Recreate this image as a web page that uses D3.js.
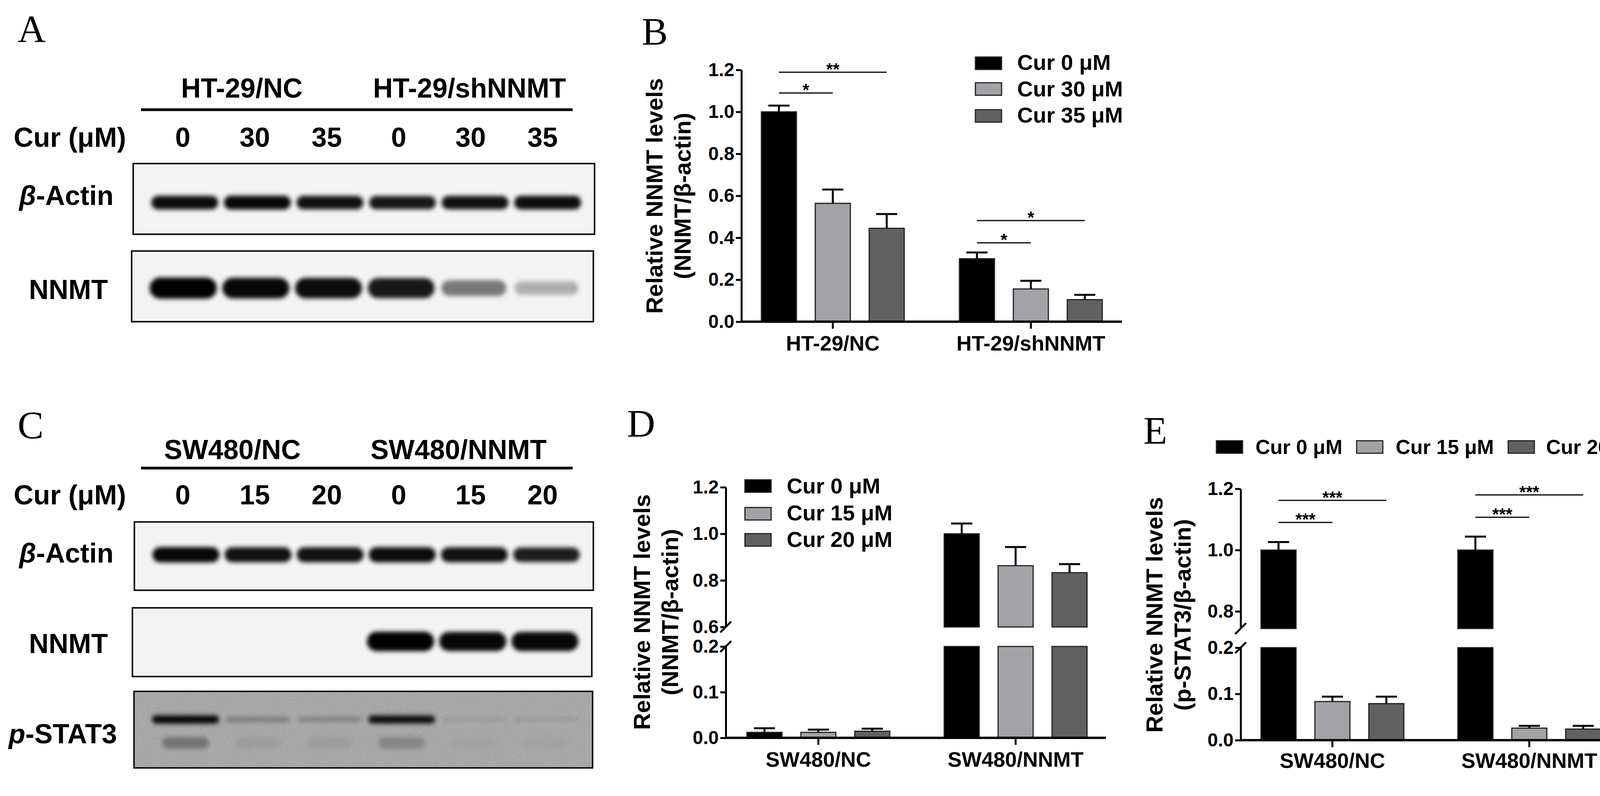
<!DOCTYPE html>
<html>
<head>
<meta charset="utf-8">
<script src="https://cdn.jsdelivr.net/npm/d3@7"></script>
<style>
body{margin:0;background:#fff}
text{font-family:"Liberation Sans",Arial,sans-serif;font-weight:bold;fill:#000}
.lbl{font-family:"Liberation Serif","Times New Roman",serif;font-weight:normal}
</style>
</head>
<body>
<script>
var W=4252, H=2039;

// ---- data ----
var curB = ["Cur 0 \u03bcM","Cur 30 \u03bcM","Cur 35 \u03bcM"];
var curDE = ["Cur 0 \u03bcM","Cur 15 \u03bcM","Cur 20 \u03bcM"];
var groupsB = ["HT-29/NC","HT-29/shNNMT"];
var groupsDE = ["SW480/NC","SW480/NNMT"];
var valuesB = [[1.0,0.564,0.445],[0.30,0.156,0.105]];
var semB    = [[0.03,0.066,0.068],[0.03,0.039,0.023]];
var valuesD = [[0.012,0.012,0.0145],[1.0,0.863,0.833]];
var semD    = [[0.009,0.006,0.0055],[0.044,0.08,0.037]];
var valuesE = [[1.0,0.0835,0.079],[1.0,0.026,0.024]];
var semE    = [[0.026,0.0105,0.015],[0.044,0.005,0.007]];
var sigB = [{g:0,to:2,v:1.189,t:"**"},{g:0,to:1,v:1.09,t:"*"},{g:1,to:2,v:0.482,t:"*"},{g:1,to:1,v:0.376,t:"*"}];
var sigE = [{g:0,to:2,v:1.162,t:"***"},{g:0,to:1,v:1.09,t:"***"},{g:1,to:2,v:1.18,t:"***"},{g:1,to:1,v:1.107,t:"***"}];
var colors = ["#000000","#a3a3a7","#616161"];

var lanesA = ["0","30","35","0","30","35"];
var lanesC = ["0","15","20","0","15","20"];
var actinA = [0.95,0.97,0.93,0.9,0.93,0.95];
var nnmtA  = [1.0,0.97,0.95,0.9,0.5,0.28];
var actinC = [0.97,0.93,0.93,0.95,0.93,0.88];
var nnmtC  = [0,0,0,1.0,0.97,0.97];
var pstatC = [0.95,0.25,0.22,0.9,0.08,0.08];
var pstatSub = [0.3,0.05,0.05,0.2,0.03,0.03];

var svg = d3.select("body").append("svg").attr("width",W).attr("height",H);
var defs = svg.append("defs");
defs.append("filter").attr("id","blur").attr("x","-30%").attr("y","-80%").attr("width","160%").attr("height","260%")
	.append("feGaussianBlur").attr("stdDeviation",6);
var nf = defs.append("filter").attr("id","noise").attr("x",0).attr("y",0).attr("width",1).attr("height",1);
nf.append("feTurbulence").attr("type","fractalNoise").attr("baseFrequency",0.6).attr("numOctaves",2).attr("result","n");
nf.append("feColorMatrix").attr("type","matrix").attr("values","0 0 0 0 0  0 0 0 0 0  0 0 0 0 0  0 0 0 0.35 0");

function letter(t,x,y){ svg.append("text").attr("class","lbl").attr("x",x).attr("y",y).attr("font-size",100).text(t); }
letter("A",45,108); letter("B",1643,114); letter("C",45,1122); letter("D",1605,1118); letter("E",2927,1136);

// ---- blots ----
function blotHeader(o){
	var g = svg.append("g");
	o.groups.forEach(function(t,i){
		g.append("text").attr("x",o.gx[i]).attr("y",o.gy).attr("text-anchor","middle").attr("font-size",70).text(t);
	});
	g.append("line").attr("x1",361).attr("x2",1466).attr("y1",o.ly).attr("y2",o.ly).attr("stroke","#000").attr("stroke-width",7);
	g.append("text").attr("x",35).attr("y",o.cy).attr("font-size",70).text("Cur (\u03bcM)");
	var x = d3.scalePoint().domain(d3.range(6)).range([468,1389]);
	o.lanes.forEach(function(t,i){
		g.append("text").attr("x",x(i)).attr("y",o.cy).attr("text-anchor","middle").attr("font-size",70).text(t);
	});
}
function blot(o){
	var g = svg.append("g");
	var x = d3.scalePoint().domain(d3.range(6)).range([o.x+132,o.x+o.w-120]);
	g.append("rect").attr("x",o.x).attr("y",o.y).attr("width",o.w).attr("height",o.h)
		.attr("fill",o.bg||"#f3f3f3");
	if(o.noise) g.append("rect").attr("x",o.x).attr("y",o.y).attr("width",o.w).attr("height",o.h).attr("filter","url(#noise)");
	g.selectAll(".band").data(o.vals).enter().append("rect")
		.attr("x",function(d,i){return x(i)-80-d*6;})
		.attr("width",function(d){return 160+d*12;})
		.attr("y",function(d){return o.by-(o.bh*(0.5+0.5*d))/2;})
		.attr("height",function(d){return o.bh*(0.5+0.5*d);})
		.attr("rx",function(d){return o.bh*(0.5+0.5*d)/2;})
		.attr("fill","#000").attr("opacity",function(d){return d;})
		.attr("filter","url(#blur)");
	if(o.sub){
		g.selectAll(".sub").data(o.sub).enter().append("rect")
			.attr("x",function(d,i){return x(i)-60;}).attr("width",120)
			.attr("y",o.by+45).attr("height",30).attr("rx",15)
			.attr("fill","#000").attr("opacity",function(d){return d;}).attr("filter","url(#blur)");
	}
	g.append("rect").attr("x",o.x).attr("y",o.y).attr("width",o.w).attr("height",o.h)
		.attr("fill","none").attr("stroke","#111").attr("stroke-width",4);
	var t = g.append("text").attr("x",o.lx).attr("y",o.ly).attr("font-size",70);
	if(o.it){ t.append("tspan").attr("font-style","italic").text(o.it); t.append("tspan").text(o.label); }
	else t.text(o.label);
}
blotHeader({groups:["HT-29/NC","HT-29/shNNMT"],gx:[619,1202],gy:250,ly:281,cy:376,lanes:lanesA});
blot({x:341,y:419,w:1181,h:181,vals:actinA,by:519,bh:36,lx:49,ly:525,it:"\u03b2",label:"-Actin"});
blot({x:337,y:643,w:1182,h:181,vals:nnmtA,by:738,bh:54,lx:74,ly:766,label:"NNMT"});
blotHeader({groups:["SW480/NC","SW480/NNMT"],gx:[595,1174],gy:1176,ly:1199,cy:1292,lanes:lanesC});
blot({x:344,y:1337,w:1175,h:175,vals:actinC,by:1421,bh:40,lx:49,ly:1441,it:"\u03b2",label:"-Actin"});
blot({x:339,y:1557,w:1176,h:176,vals:nnmtC,by:1643,bh:50,lx:74,ly:1673,label:"NNMT"});
blot({x:343,y:1771,w:1174,h:196,vals:pstatC,by:1843,bh:22,lx:22,ly:1904,it:"p",label:"-STAT3",
	bg:"#cbcbcb",noise:true,sub:pstatSub});

// ---- bar panels ----
function barPanel(o){
	var g = svg.append("g");
	var xg = d3.scalePoint().domain(o.groups).range(o.centers);
	var xs = d3.scaleBand().domain([0,1,2]).range([-207,207]).paddingInner(0.35).paddingOuter(0.175);
	var segs = o.segs.map(function(s){ return {y:d3.scaleLinear().domain(s.domain).range(s.range), ticks:s.ticks}; });
	function yv(v){
		for(var i=0;i<segs.length;i++){ var d=segs[i].y.domain(); if(v>=d[0]&&v<=d[1]) return segs[i].y(v); }
		return segs[segs.length-1].y(v);
	}
	var y0 = segs[0].y(0);
	// bars
	o.values.forEach(function(row,gi){
		row.forEach(function(v,si){
			var bx = xg(o.groups[gi])+xs(si);
			segs.forEach(function(s){
				var d=s.y.domain();
				if(v<=d[0]) return;
				var top = Math.min(v,d[1]);
				g.append("rect").attr("x",bx).attr("width",xs.bandwidth())
					.attr("y",s.y(top)).attr("height",s.y(d[0])-s.y(top))
					.attr("fill",colors[si]).attr("stroke","#222").attr("stroke-width",3);
			});
			var cx = bx+xs.bandwidth()/2, e = v+o.sem[gi][si];
			g.append("line").attr("x1",cx).attr("x2",cx).attr("y1",yv(v)).attr("y2",yv(e)).attr("stroke","#000").attr("stroke-width",5);
			g.append("line").attr("x1",cx-27).attr("x2",cx+27).attr("y1",yv(e)).attr("y2",yv(e)).attr("stroke","#000").attr("stroke-width",5);
		});
	});
	// y axis segments
	segs.forEach(function(s,i){
		var ax = g.append("g").attr("transform","translate("+o.ax+",0)")
			.call(d3.axisLeft(s.y).tickValues(s.ticks).tickSize(14).tickSizeOuter(0).tickFormat(d3.format(".1f")));
		ax.select(".domain").attr("stroke-width",5);
		ax.selectAll(".tick line").attr("stroke-width",5);
		ax.selectAll("text").attr("font-size",48).attr("font-family","Liberation Sans").attr("font-weight","bold").attr("x",-18);
		if(i<segs.length-1){
			var yb = s.y(s.y.domain()[1]);
			g.append("line").attr("x1",o.ax-14).attr("x2",o.ax+14).attr("y1",yb+14).attr("y2",yb-14).attr("stroke","#000").attr("stroke-width",5);
			var yb2 = segs[i+1].y(segs[i+1].y.domain()[0]);
			g.append("line").attr("x1",o.ax-14).attr("x2",o.ax+14).attr("y1",yb2+14).attr("y2",yb2-14).attr("stroke","#000").attr("stroke-width",5);
		}
	});
	// x axis
	g.append("line").attr("x1",o.ax-2).attr("x2",o.xend).attr("y1",y0).attr("y2",y0).attr("stroke","#000").attr("stroke-width",6);
	o.groups.forEach(function(gr){
		g.append("line").attr("x1",xg(gr)).attr("x2",xg(gr)).attr("y1",y0).attr("y2",y0+18).attr("stroke","#000").attr("stroke-width",5);
		g.append("text").attr("x",xg(gr)).attr("y",o.gly).attr("text-anchor","middle").attr("font-size",54).text(gr);
	});
	// significance
	(o.sig||[]).forEach(function(s){
		var c = xg(o.groups[s.g]);
		var x1 = c+xs(0)+xs.bandwidth()/2, x2 = c+xs(s.to)+xs.bandwidth()/2;
		g.append("line").attr("x1",x1).attr("x2",x2).attr("y1",yv(s.v)).attr("y2",yv(s.v)).attr("stroke","#000").attr("stroke-width",3);
		g.append("text").attr("x",(x1+x2)/2).attr("y",yv(s.v)+8).attr("text-anchor","middle").attr("font-size",44).attr("font-weight","normal").text(s.t);
	});
	// y title
	var tt = g.append("text").attr("transform","translate("+o.tx+","+o.ty+") rotate(-90)").attr("text-anchor","middle").attr("font-size",60);
	tt.append("tspan").attr("x",0).attr("dy",0).text("Relative NNMT levels");
	tt.append("tspan").attr("x",0).attr("dy",72).text(o.t2);
	// legend
	o.legend.forEach(function(l,i){
		g.append("rect").attr("x",l[0]).attr("y",l[1]).attr("width",67).attr("height",32)
			.attr("fill",colors[i]).attr("stroke","#222").attr("stroke-width",3);
		g.append("text").attr("x",l[2]).attr("y",l[3]).attr("font-size",o.lfs||56).text(o.series[i]);
	});
}

barPanel({groups:groupsB,series:curB,values:valuesB,sem:semB,sig:sigB,centers:[2132,2639],ax:1898,xend:2872,
	segs:[{domain:[0,1.2],range:[824,179],ticks:[0,0.2,0.4,0.6,0.8,1.0,1.2]}],gly:898,tx:1696,ty:502,t2:"(NNMT/\u03b2-actin)",
	legend:[[2497,146,2604,179],[2497,212,2604,247],[2497,281,2604,314]]});
barPanel({groups:groupsDE,series:curDE,values:valuesD,sem:semD,centers:[2095,2600],ax:1858,xend:2831,
	segs:[{domain:[0,0.2],range:[1890,1656],ticks:[0,0.1,0.2]},{domain:[0.6,1.2],range:[1606,1248],ticks:[0.6,0.8,1.0,1.2]}],
	gly:1964,tx:1664,ty:1568,t2:"(NNMT/\u03b2-actin)",
	legend:[[1907,1229,2014,1264],[1907,1300,2014,1333],[1907,1367,2014,1401]]});
barPanel({groups:groupsDE,series:curDE,values:valuesE,sem:semE,sig:sigE,centers:[3411,3915],ax:3176,xend:4150,
	segs:[{domain:[0,0.2],range:[1896,1659],ticks:[0,0.1,0.2]},{domain:[0.744,1.2],range:[1610,1252],ticks:[0.8,1.0,1.2]}],
	gly:1967,tx:2976,ty:1575,t2:"(p-STAT3/\u03b2-actin)",lfs:52,
	legend:[[3114,1129,3214,1163],[3473,1129,3573,1163],[3861,1129,3958,1163]]});
</script>
</body>
</html>
